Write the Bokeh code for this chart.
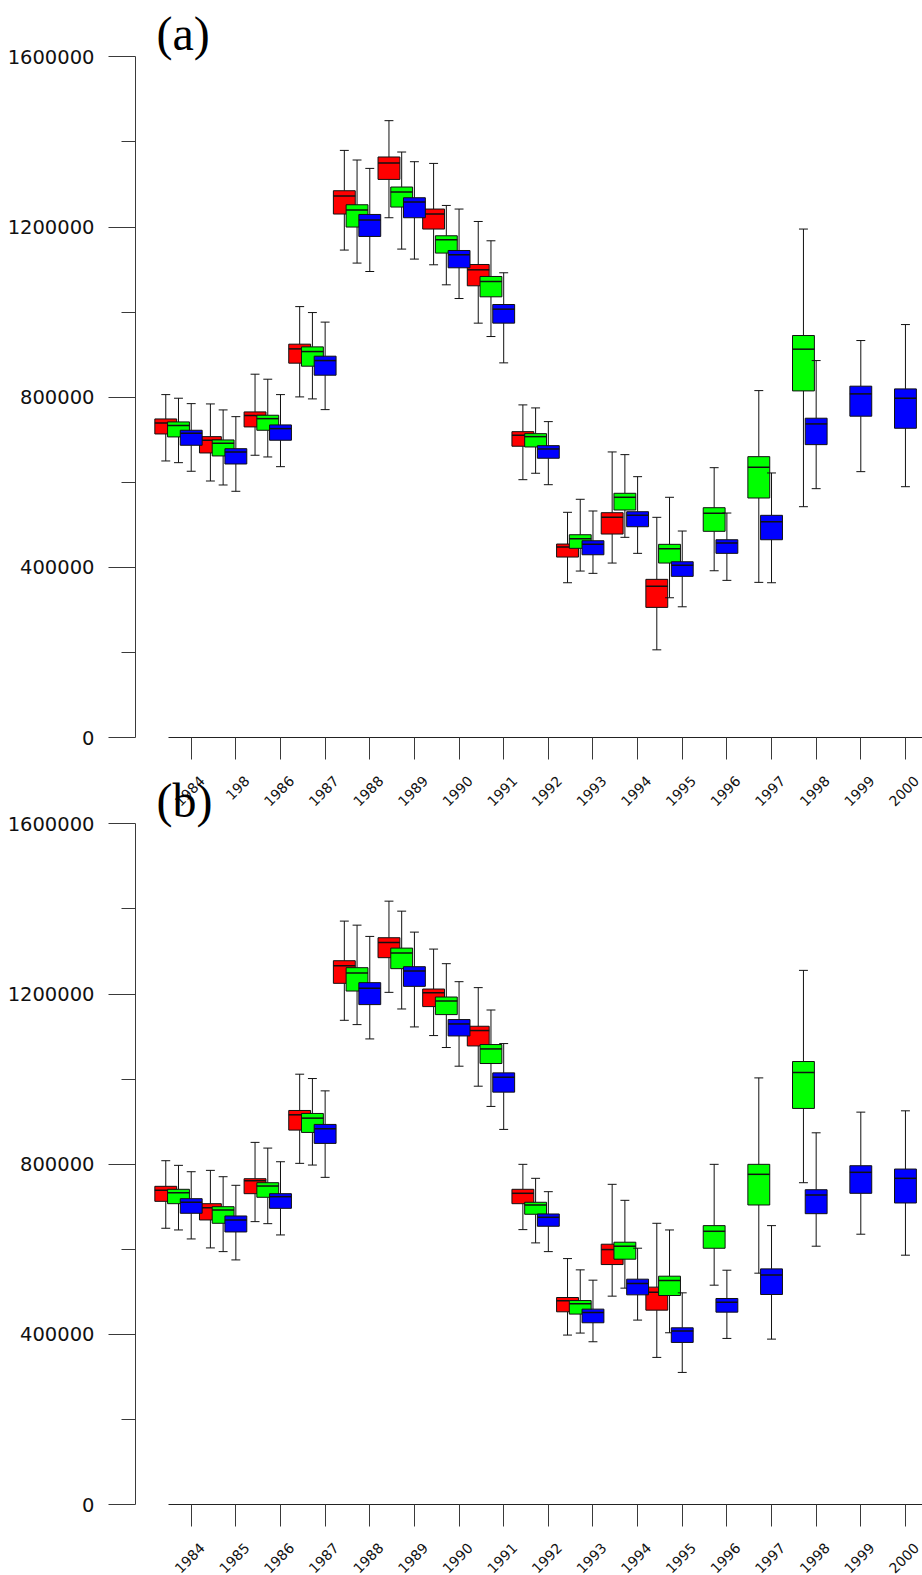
from math import pi
from bokeh.plotting import figure
from bokeh.models import ColumnDataSource, Range1d, FixedTicker, Label, LinearAxis
from bokeh.layouts import column
from bokeh.embed import file_html
from bokeh.resources import INLINE

# ---------------- data ----------------
years = [1984, 1985, 1986, 1987, 1988, 1989, 1990, 1991, 1992,
         1993, 1994, 1995, 1996, 1997, 1998, 1999, 2000]
x_labels_a = ["1984", "198", "1986", "1987", "1988", "1989", "1990", "1991", "1992",
              "1993", "1994", "1995", "1996", "1997", "1998", "1999", "2000"]
x_labels_b = ["1984", "1985", "1986", "1987", "1988", "1989", "1990", "1991", "1992",
              "1993", "1994", "1995", "1996", "1997", "1998", "1999", "2000"]
y_ticks = [0, 400000, 800000, 1200000, 1600000]
y_minor_ticks = [200000, 600000, 1000000, 1400000]
y_labels = ["0", "400000", "800000", "1200000", "1600000"]

# each entry: (lower whisker, Q1, median, Q3, upper whisker); None = no box
a_red = [
    (650100, 713600, 739500, 748900, 806100),
    (603000, 668900, 698800, 707300, 784200),
    (663500, 730100, 756700, 765400, 854100),
    (800700, 880000, 913600, 924700, 1013000),
    (1145900, 1230600, 1272900, 1285400, 1380200),
    (1221900, 1312000, 1350600, 1364700, 1450100),
    (1111300, 1195300, 1230600, 1242300, 1349600),
    (974100, 1061900, 1099500, 1112000, 1213100),
    (606100, 684700, 710600, 719000, 781900),
    (363800, 424200, 447800, 454800, 529400),
    (410100, 478300, 517600, 528500, 671300),
    (206100, 305900, 355300, 371800, 517600),
    None, None, None, None, None,
]
a_green = [
    (646100, 706600, 733200, 741900, 797600),
    (593600, 661900, 691800, 699500, 770100),
    (659500, 722300, 749600, 757600, 842300),
    (796000, 872900, 907300, 918300, 999000),
    (1115300, 1200000, 1240000, 1252400, 1357600),
    (1148200, 1247000, 1282300, 1294100, 1376400),
    (1064200, 1138800, 1170100, 1179500, 1250800),
    (942600, 1036000, 1072000, 1083800, 1167700),
    (621200, 683000, 707300, 714300, 774800),
    (391300, 444700, 467300, 476700, 560000),
    (470600, 534800, 564700, 574100, 665000),
    (328500, 410100, 443800, 454100, 564700),
    (392000, 484700, 527000, 540200, 634300),
    (364700, 563000, 635300, 660200, 815500),
    (542600, 814800, 912900, 945000, 1195300),
    None, None,
]
a_blue = [
    (625900, 687000, 715300, 722300, 784900),
    (578800, 643000, 671300, 679000, 754300),
    (636700, 698800, 726100, 734800, 806100),
    (770800, 851700, 886100, 896400, 976500),
    (1095500, 1177900, 1216400, 1229600, 1337900),
    (1124700, 1221900, 1258800, 1268900, 1353600),
    (1032000, 1104200, 1134800, 1144900, 1242300),
    (880700, 974100, 1007000, 1017900, 1092500),
    (594300, 656500, 678300, 686100, 742600),
    (385900, 429600, 454100, 462600, 532500),
    (432900, 495500, 522300, 530800, 613200),
    (307300, 378800, 404700, 413200, 485400),
    (369400, 432900, 457200, 464900, 527700),
    (363800, 464900, 507300, 522300, 621900),
    (585000, 688500, 737200, 750600, 886100),
    (625000, 755300, 807800, 825900, 933200),
    (589600, 727000, 797600, 819500, 970800),
]

b_red = [
    (649400, 712700, 738600, 748000, 808200),
    (603200, 668900, 697800, 707200, 785500),
    (665000, 730700, 761200, 765900, 851300),
    (802000, 880200, 916100, 926300, 1011600),
    (1138300, 1225200, 1266700, 1278400, 1371500),
    (1204000, 1285500, 1321400, 1332400, 1418400),
    (1102400, 1170500, 1203300, 1211800, 1305700),
    (983400, 1078000, 1114200, 1124300, 1215100),
    (646200, 707200, 731600, 741000, 799700),
    (398300, 453000, 478800, 486600, 578100),
    (489800, 564100, 599300, 611900, 752700),
    (345800, 456900, 499200, 511000, 661100),
    None, None, None, None, None,
]
b_green = [
    (645400, 707200, 733100, 741000, 797300),
    (594500, 661100, 692400, 700100, 770600),
    (660200, 722200, 748700, 756500, 837900),
    (798000, 874700, 908300, 919300, 1001400),
    (1128200, 1207100, 1249400, 1262000, 1362000),
    (1164900, 1259700, 1296300, 1308000, 1394900),
    (1074300, 1151700, 1183700, 1193000, 1271400),
    (935800, 1036700, 1071000, 1081300, 1162500),
    (615000, 682300, 704100, 710500, 766800),
    (403000, 447600, 471800, 479500, 551600),
    (508600, 576700, 607200, 616600, 715100),
    (403700, 491300, 526500, 536700, 645400),
    (515600, 602400, 642300, 655600, 799700),
    (543800, 704100, 776200, 799700, 1002900),
    (756500, 931100, 1015600, 1041400, 1255700),
    None, None,
]
b_blue = [
    (624300, 684600, 710500, 719000, 782300),
    (575000, 640700, 668900, 678300, 750400),
    (633700, 696300, 723600, 730700, 805800),
    (769100, 848900, 883300, 893500, 972400),
    (1094500, 1175200, 1213400, 1226800, 1335500),
    (1122700, 1218100, 1254100, 1264300, 1345600),
    (1030400, 1101500, 1129700, 1140000, 1229100),
    (881800, 969400, 1004500, 1014700, 1083600),
    (594500, 654100, 675200, 683000, 735400),
    (382600, 427200, 451300, 459300, 527400),
    (433500, 492900, 519500, 529700, 602500),
    (310500, 381000, 407600, 415400, 497600),
    (390400, 452200, 475700, 484300, 550800),
    (388800, 493700, 539800, 553900, 655600),
    (607200, 683700, 727600, 740000, 873800),
    (635400, 731600, 780900, 796400, 922400),
    (586100, 708800, 766800, 788600, 925500),
]

series_colors = ["#ff0000", "#00ff00", "#0000ff"]
series_offsets = [-0.57, -0.285, 0.0]

# ---------------- style / layout ----------------
BOX_W = 0.49
CAP_W = 0.2
X0, X1 = 1982.752, 2000.382
Y_TOP = 1732600                 # value at the top edge of each frame
FRAME_H = 737
LABEL_SHIFT = 0.25              # rotated year labels sit a little right of their tick
AX_COL = "#3a3a3a"
INK = "#111111"


def add_series(p, stats, color, offset):
    d = dict(x=[], xl=[], xr=[], cl=[], cr=[], lo=[], q1=[], med=[], q3=[], hi=[])
    for yr, s in zip(years, stats):
        if s is None:
            continue
        x = yr + offset
        d["x"].append(x)
        d["xl"].append(x - BOX_W / 2)
        d["xr"].append(x + BOX_W / 2)
        d["cl"].append(x - CAP_W / 2)
        d["cr"].append(x + CAP_W / 2)
        for k, v in zip(["lo", "q1", "med", "q3", "hi"], s):
            d[k].append(v)
    src = ColumnDataSource(d)
    p.segment(x0="x", y0="q3", x1="x", y1="hi", source=src, line_color=INK, line_width=1)
    p.segment(x0="x", y0="q1", x1="x", y1="lo", source=src, line_color=INK, line_width=1)
    p.segment(x0="cl", y0="hi", x1="cr", y1="hi", source=src, line_color=INK, line_width=1)
    p.segment(x0="cl", y0="lo", x1="cr", y1="lo", source=src, line_color=INK, line_width=1)
    p.vbar(x="x", width=BOX_W, bottom="q1", top="q3", source=src,
           fill_color=color, line_color=INK, line_width=1)
    p.segment(x0="xl", y0="med", x1="xr", y1="med", source=src, line_color=INK, line_width=1.5)


def make_panel(series, xlabels, tag, border_bottom, transparent=False):
    p = figure(width=922, height=FRAME_H + border_bottom, output_backend="svg",
               toolbar_location=None,
               x_range=Range1d(X0, X1), y_range=Range1d(0, Y_TOP),
               x_axis_type=None, y_axis_type=None,
               min_border_left=135, min_border_right=0, min_border_top=0,
               min_border_bottom=border_bottom)
    p.outline_line_color = None
    if transparent:
        p.background_fill_color = None
        p.border_fill_color = None

    for stats, color, off in zip(series, series_colors, series_offsets):
        add_series(p, stats, color, off)

    # x axis: tick marks at the years (minor ticks), labels slightly to the right
    label_pos = [y + LABEL_SHIFT for y in years]
    xaxis = LinearAxis(ticker=FixedTicker(ticks=label_pos, minor_ticks=years),
                       bounds=(1983.5, 2000.5))
    xaxis.major_label_overrides = {x: l for x, l in zip(label_pos, xlabels)}
    xaxis.major_label_orientation = pi / 4
    xaxis.major_label_text_font = "DejaVu Sans"
    xaxis.major_label_text_font_size = "14px"
    xaxis.major_label_text_color = "#111111"
    xaxis.major_label_standoff = 19
    xaxis.major_tick_out = 0
    xaxis.major_tick_in = 0
    xaxis.major_tick_line_color = None
    xaxis.minor_tick_out = 22
    xaxis.minor_tick_in = 0
    xaxis.minor_tick_line_color = AX_COL
    xaxis.axis_line_color = "#222222"
    p.add_layout(xaxis, "below")

    yaxis = LinearAxis(ticker=FixedTicker(ticks=y_ticks, minor_ticks=y_minor_ticks),
                       bounds=(0, 1600000))
    yaxis.major_label_overrides = {v: l for v, l in zip(y_ticks, y_labels)}
    yaxis.major_label_text_font = "DejaVu Sans"
    yaxis.major_label_text_font_size = "19.5px"
    yaxis.major_label_text_color = "#111111"
    yaxis.major_label_standoff = 14
    yaxis.major_tick_out = 27
    yaxis.major_tick_in = 0
    yaxis.minor_tick_out = 14
    yaxis.minor_tick_in = 0
    yaxis.major_tick_line_color = AX_COL
    yaxis.minor_tick_line_color = AX_COL
    yaxis.axis_line_color = AX_COL
    p.add_layout(yaxis, "left")

    p.add_layout(Label(x=21, y=FRAME_H - 33, x_units="screen", y_units="screen", text=tag,
                       text_font="Liberation Serif", text_font_size="48px",
                       text_baseline="alphabetic", text_align="left", text_color="#000000"))
    return p


BORDER_B = 90
PANEL_STEP = 767
PAGE_H = 1575
p1 = make_panel([a_red, a_green, a_blue], x_labels_a, "(a)", BORDER_B)
p2 = make_panel([b_red, b_green, b_blue], x_labels_b, "(b)", BORDER_B, transparent=True)
p2.styles = {"margin-top": "%dpx" % (PANEL_STEP - (FRAME_H + BORDER_B)), "flex-shrink": "0"}
p1.styles = {"flex-shrink": "0"}

layout = column(p1, p2, spacing=0, width=922, height=PAGE_H,
                styles={"overflow": "hidden"})
open("out.html", "w").write(file_html(layout, INLINE))
